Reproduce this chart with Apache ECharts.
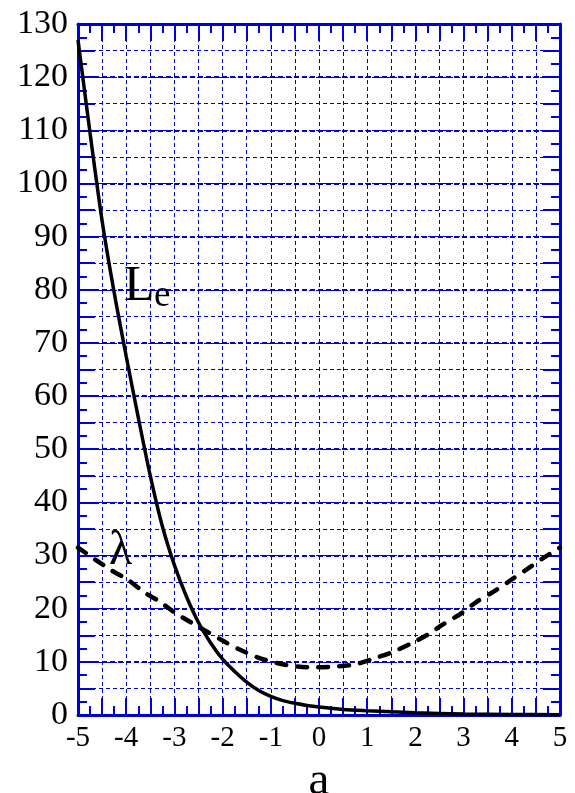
<!DOCTYPE html>
<html>
<head>
<meta charset="utf-8">
<script src="https://cdn.jsdelivr.net/npm/echarts@6/dist/echarts.min.js"></script>
<style>
html,body{margin:0;padding:0;background:#fff;}
#main{width:575px;height:793px;}
</style>
</head>
<body>
<div id="main"></div>
<script>
// L_e curve (solid)
var leX = [-5, -4.75, -4.5, -4.25, -4, -3.75, -3.5, -3.25, -3, -2.75, -2.5, -2.25, -2, -1.75, -1.5, -1.25, -1, -0.75, -0.5, -0.25, 0, 0.5, 1, 1.5, 2, 3, 4, 5];
var leY = [127, 109.5, 93, 79.5, 67.5, 56, 45, 35.5, 28.2, 22.3, 17.4, 13.6, 10.5, 8.2, 6.2, 4.6, 3.5, 2.7, 2.2, 1.8, 1.5, 1.05, 0.8, 0.6, 0.42, 0.2, 0.1, 0.05];
// lambda curve (dashed)
var lamX = [-5, -4.34, -3.96, -3.61, -3.3, -3.0, -2.68, -2.33, -2.02, -1.67, -1.29, -0.91, -0.53, -0.12, 0.33, 0.78, 1.16, 1.54, 1.92, 2.27, 2.58, 2.93, 3.27, 3.64, 4.0, 4.31, 4.65, 5];
var lamY = [31.5, 27.4, 25.4, 23.0, 21.3, 19.3, 17.55, 15.7, 14.1, 12.4, 10.9, 9.85, 9.2, 8.97, 9.1, 9.6, 10.7, 11.9, 13.5, 15.2, 17.1, 19.0, 21.3, 23.3, 25.5, 27.4, 29.5, 31.5];

var blue = '#0000d8';
var font = 'Liberation Serif';

function pairs(xs,ys){
	var out = [];
	for(var i=0;i<xs.length;i++){
		out.push([xs[i],ys[i]]);
	}
	return out;
}

var myChart = echarts.init(document.getElementById('main'));

var tickStyle = {color:blue,width:2};
var noLabel = {show:false};

option = {
	animation:false,
	backgroundColor:'#fff',
	grid:{left:78,right:15,top:24,bottom:78,outerBoundsMode:'none',containLabel:false},
	xAxis:[
		{
			type:'value',min:-5,max:5,interval:0.5,position:'bottom',
			axisLine:{show:true,onZero:false,lineStyle:{color:blue,width:3}},
			axisTick:{show:true,inside:true,length:17,lineStyle:tickStyle},
			minorTick:{show:true,splitNumber:2,length:9,lineStyle:tickStyle},
			splitLine:{show:true,lineStyle:{color:blue,width:1,type:[4,3]}},
			axisLabel:{
				color:'#000',fontFamily:font,fontSize:29,margin:9,
				formatter:function(v){return v%1===0 ? String(v) : '';}
			},
			name:'a',nameLocation:'middle',nameGap:33,
			nameTextStyle:{color:'#000',fontFamily:font,fontSize:47,verticalAlign:'top'}
		},
		{
			type:'value',min:-5,max:5,interval:0.5,position:'top',
			axisLine:{show:true,onZero:false,lineStyle:{color:blue,width:3}},
			axisTick:{show:true,inside:true,length:17,lineStyle:tickStyle},
			minorTick:{show:true,splitNumber:2,length:9,lineStyle:tickStyle},
			splitLine:{show:false},
			axisLabel:noLabel
		}
	],
	yAxis:[
		{
			type:'value',min:0,max:130,interval:5,position:'left',
			axisLine:{show:true,onZero:false,lineStyle:{color:blue,width:3}},
			axisTick:{show:true,inside:true,length:17,lineStyle:tickStyle},
			minorTick:{show:true,splitNumber:2,length:9,lineStyle:tickStyle},
			splitLine:{show:true,lineStyle:{color:blue,width:1,type:[4,3]}},
			axisLabel:{
				color:'#000',fontFamily:font,fontSize:34,margin:10,padding:[0,0,10,0],
				formatter:function(v){return v%10===0 ? String(v) : '';}
			}
		},
		{
			type:'value',min:0,max:130,interval:5,position:'right',
			axisLine:{show:true,onZero:false,lineStyle:{color:blue,width:3}},
			axisTick:{show:true,inside:true,length:17,lineStyle:tickStyle},
			minorTick:{show:true,splitNumber:2,length:9,lineStyle:tickStyle},
			splitLine:{show:false},
			axisLabel:noLabel
		},
		{
			// heavier grid lines every 10
			type:'value',min:0,max:130,interval:10,position:'left',
			axisLine:{show:false},axisTick:{show:false},axisLabel:noLabel,
			splitLine:{show:true,lineStyle:{color:blue,width:2,type:[5,3]}}
		}
	],
	series:[
		{
			name:'Le',type:'line',data:pairs(leX,leY),
			xAxisIndex:0,yAxisIndex:0,
			smooth:0.3,showSymbol:false,symbol:'none',
			lineStyle:{color:'#000',width:3.5},z:10
		},
		{
			name:'lambda',type:'line',data:pairs(lamX,lamY),
			xAxisIndex:0,yAxisIndex:0,
			smooth:0.3,showSymbol:false,symbol:'none',
			lineStyle:{color:'#000',width:4.5,type:[9.5,11.5],cap:'round'},z:10
		}
	],
	graphic:[
		{type:'text',left:124,top:262,z:20,style:{text:'L',fill:'#000',font:'50px "Liberation Serif"'}},
		{type:'text',left:154,top:278,z:20,style:{text:'e',fill:'#000',font:'37px "Liberation Serif"'}},
		{type:'text',left:109,top:527,z:20,style:{text:'λ',fill:'#000',font:'48px "Liberation Serif"'}}
	]
};

myChart.setOption(option);
</script>
</body>
</html>
